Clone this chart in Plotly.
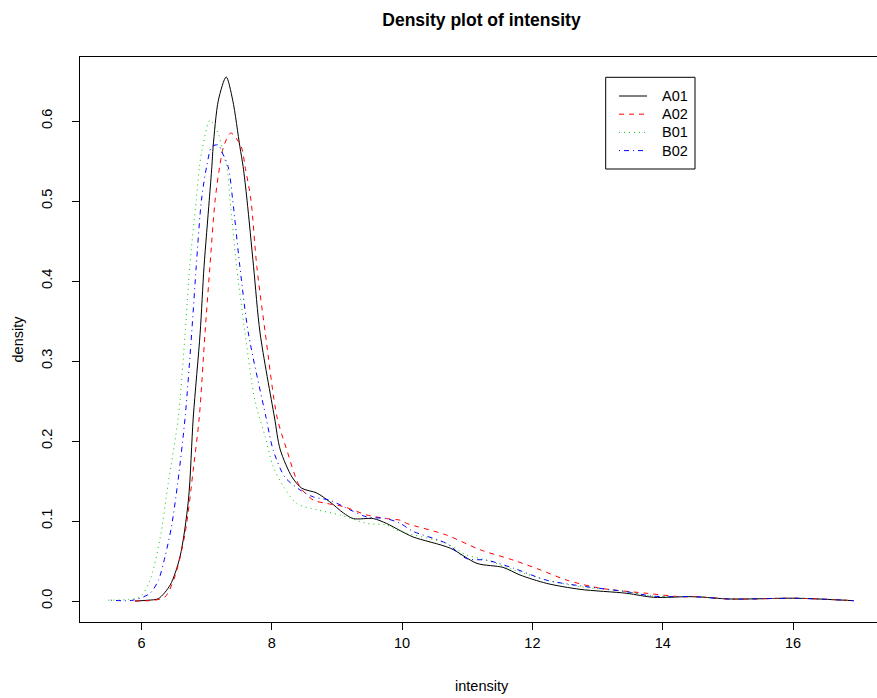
import plotly.graph_objects as go

# ---- data ----
a01_x = [5.90, 6.10, 6.26, 6.44, 6.59, 6.72, 6.795, 6.90, 6.96, 7.04, 7.08, 7.10, 7.18, 7.30, 7.40,
         7.51, 7.56, 7.62, 7.72, 7.82, 8.04, 8.13, 8.31, 8.46, 8.69, 8.89, 9.10, 9.25, 9.56, 9.76,
         9.97, 10.17, 10.74, 11.15, 11.55, 11.81, 12.22, 12.73, 13.45, 13.86, 14.47, 15.03, 16.06, 16.93]
a01_y = [0.000, 0.001, 0.003, 0.020, 0.055, 0.126, 0.230, 0.335, 0.418, 0.501, 0.543, 0.568, 0.626, 0.655, 0.626,
         0.568, 0.543, 0.501, 0.418, 0.335, 0.230, 0.189, 0.155, 0.141, 0.135, 0.124, 0.110, 0.103, 0.103, 0.097,
         0.088, 0.080, 0.066, 0.047, 0.042, 0.0325, 0.022, 0.0146, 0.0096, 0.0046, 0.0054, 0.0025, 0.0034, 0.0004]

a02_x = [5.90, 6.20, 6.36, 6.51, 6.67, 6.80, 6.887, 6.975, 7.05, 7.13, 7.20, 7.26, 7.37, 7.53, 7.59,
         7.68, 7.77, 7.90, 8.08, 8.23, 8.43, 8.64, 8.84, 9.10, 9.46, 9.76, 9.97, 10.07, 10.68, 11.20,
         11.71, 12.12, 12.53, 13.04, 13.76, 14.27, 14.50, 15.03, 16.06, 16.93]
a02_y = [0.000, 0.001, 0.005, 0.030, 0.085, 0.168, 0.230, 0.335, 0.418, 0.501, 0.543, 0.568, 0.585, 0.568, 0.543,
         0.501, 0.418, 0.335, 0.230, 0.189, 0.143, 0.126, 0.122, 0.118, 0.1075, 0.103, 0.101, 0.097, 0.0825, 0.064,
         0.051, 0.039, 0.026, 0.016, 0.0096, 0.0054, 0.0055, 0.0025, 0.0034, 0.0004]

b01_x = [5.49, 5.80, 5.98, 6.13, 6.28, 6.41, 6.565, 6.67, 6.74, 6.84, 6.89, 6.94, 7.05, 7.18, 7.26,
         7.31, 7.36, 7.46, 7.59, 7.74, 7.90, 8.02, 8.18, 8.38, 8.69, 9.05, 9.46, 9.76, 9.97, 10.68,
         10.99, 11.30, 11.71, 12.22, 12.73, 13.45, 13.86, 14.47, 15.03, 16.06, 16.93]
b01_y = [0.001, 0.002, 0.005, 0.026, 0.076, 0.147, 0.230, 0.335, 0.418, 0.501, 0.543, 0.568, 0.601, 0.584, 0.557,
         0.543, 0.501, 0.418, 0.335, 0.251, 0.205, 0.168, 0.143, 0.122, 0.114, 0.1075, 0.097, 0.095, 0.087, 0.072,
         0.0575, 0.051, 0.039, 0.026, 0.018, 0.0116, 0.006, 0.0054, 0.0025, 0.0034, 0.0004]

b02_x = [5.53, 5.87, 6.13, 6.26, 6.36, 6.46, 6.56, 6.67, 6.77, 6.84, 6.92, 7.00, 7.08, 7.18, 7.23,
         7.33, 7.40, 7.51, 7.64, 7.91, 8.02, 8.20, 8.43, 8.64, 8.89, 9.20, 9.46, 9.76, 9.97, 10.17,
         10.68, 10.99, 11.30, 11.71, 12.22, 12.73, 13.45, 13.86, 14.47, 15.03, 16.06, 16.93]
b02_y = [0.001, 0.001, 0.0096, 0.026, 0.055, 0.093, 0.150, 0.230, 0.335, 0.418, 0.501, 0.543, 0.568, 0.570, 0.562,
         0.543, 0.501, 0.418, 0.335, 0.230, 0.189, 0.155, 0.139, 0.130, 0.126, 0.114, 0.105, 0.103, 0.097, 0.087,
         0.072, 0.053, 0.051, 0.041, 0.026, 0.019, 0.0116, 0.006, 0.0054, 0.0025, 0.0034, 0.0004]

series_names = ["A01", "A02", "B01", "B02"]
series_colors = ["#000000", "#FF0000", "#00CD00", "#0000FF"]
series_dashes = ["solid", "5px,5px", "1px,4px", "1px,4px,5px,4px"]
series_x = [a01_x, a02_x, b01_x, b02_x]
series_y = [a01_y, a02_y, b01_y, b02_y]

FONT = "Liberation Sans, Arial, Helvetica, sans-serif"
FS = 14.5

W, H = 877, 698
L, R, T, B = 80, 0, 57, 76
PW, PH = W - L - R, H - T - B


def px_x(p):  # pixel column -> paper fraction
    return (p - L) / PW


def px_y(p):  # pixel row -> paper fraction
    return (H - B - p) / PH


fig = go.Figure()
for name, xs, ys, col, dash in zip(series_names, series_x, series_y, series_colors, series_dashes):
    fig.add_trace(go.Scatter(
        x=xs, y=ys, mode="lines", name=name, showlegend=False,
        line=dict(color=col, width=1, dash=dash, shape="spline", smoothing=0.8),
    ))

fig.update_layout(
    width=W, height=H,
    margin=dict(l=L, r=R, t=T, b=B, pad=0),
    paper_bgcolor="white", plot_bgcolor="white",
    font=dict(family=FONT, size=FS, color="black"),
    title=dict(text="<b>Density plot of intensity</b>", font=dict(size=17.5, family=FONT, color="black"),
               x=481.5 / W, xref="container", xanchor="center",
               y=1 - 20 / H, yref="container", yanchor="middle"),
    showlegend=False,
)

fig.update_xaxes(
    range=[6 + (L - 141.5) / 65.15, 6 + (W - R - 141.5) / 65.15],
    tick0=6, dtick=2, ticks="outside", ticklen=7, tickcolor="black", tickwidth=1,
    showline=True, linecolor="black", linewidth=1, mirror=True,
    showgrid=False, zeroline=False, automargin=False,
    ticklabelstandoff=1,
    tickfont=dict(size=FS, family=FONT),
)
fig.update_yaxes(
    range=[(601 - (H - B)) / 800, (601 - T) / 800],
    tick0=0, dtick=0.1, tickformat=".1f", ticks="outside", ticklen=7, tickcolor="black", tickwidth=1,
    tickangle=-90,
    showline=True, linecolor="black", linewidth=1, mirror=False,
    showgrid=False, zeroline=False, automargin=False,
    ticklabelstandoff=14,
    tickfont=dict(size=FS, family=FONT),
)

fig.add_annotation(text="intensity", xref="paper", yref="paper", x=px_x(481.5), y=0,
                   xanchor="center", yanchor="middle", yshift=-(686 - (H - B)), showarrow=False,
                   font=dict(size=FS, family=FONT))
fig.add_annotation(text="density", xref="paper", yref="paper", x=0, y=0.5, textangle=-90,
                   xanchor="center", yanchor="middle", xshift=-(L - 17), showarrow=False,
                   font=dict(size=FS, family=FONT))

# ---- legend box (R-style) ----
LEG_L, LEG_R, LEG_T, LEG_B = 605.7, 695.0, 77.3, 169.0
ROW0, ROW_STEP = 96.0, 18.2
fig.add_shape(type="rect", xref="paper", yref="paper",
              x0=px_x(LEG_L), x1=px_x(LEG_R), y0=px_y(LEG_B), y1=px_y(LEG_T),
              line=dict(color="black", width=1), fillcolor="white", layer="above")
for i, (name, col, dash) in enumerate(zip(series_names, series_colors, series_dashes)):
    ry = ROW0 + i * ROW_STEP
    fig.add_shape(type="line", xref="paper", yref="paper",
                  x0=px_x(619), x1=px_x(647), y0=px_y(ry), y1=px_y(ry),
                  line=dict(color=col, width=1, dash=dash), layer="above")
    fig.add_annotation(text=name, xref="paper", yref="paper", x=px_x(659.5), y=px_y(ry),
                       xanchor="left", yanchor="middle", showarrow=False,
                       font=dict(size=FS, family=FONT))

fig.write_html("out.html")
